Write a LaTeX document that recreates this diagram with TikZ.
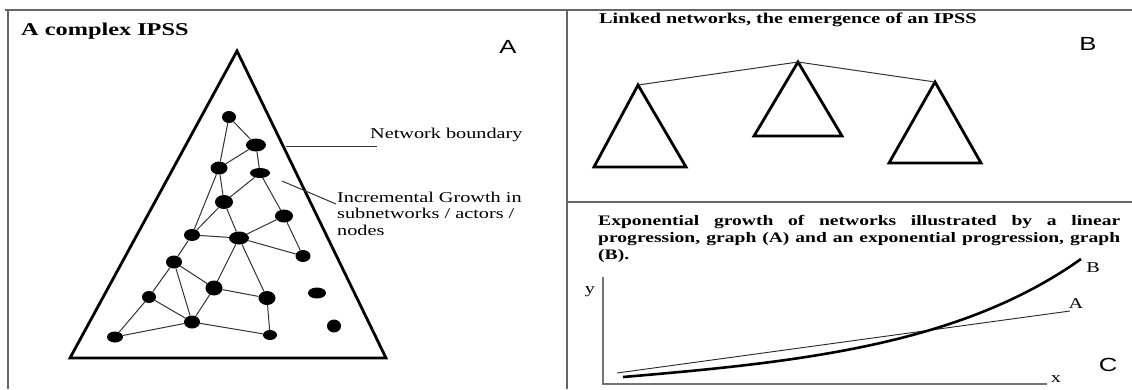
\documentclass[tikz,border=0pt]{standalone}
\usepackage{fontspec}
\setmainfont{Liberation Serif}
\newfontfamily\panelsans{Liberation Sans}
\usepackage{graphicx}
\usetikzlibrary{shapes.geometric}
\newcommand{\hstretch}[1]{\scalebox{1.35}[1]{#1}}
\begin{document}
\begin{tikzpicture}[x=1pt,y=-1pt,
  frame/.style={draw=black!60, line width=1.5pt},
  tri/.style={draw=black, line width=2.8pt, line join=miter},
  link/.style={draw=black!80, line width=1pt},
  dot/.style={ellipse, fill=black, inner sep=0pt, minimum width=16pt, minimum height=12pt},
  leader/.style={draw=black!80, line width=1pt},
  axis/.style={draw=black!55, line width=1.6pt},
  txt/.style={inner sep=0pt, font=\fontsize{15}{17}\selectfont},
  ttl/.style={inner sep=0pt},
  letter/.style={inner sep=0pt, font=\panelsans\fontsize{19}{19}\selectfont}]
\useasboundingbox (0,0) rectangle (1132,389);
\fill[white] (0,0) rectangle (1132,389);

% frame
\draw[frame] (5,10) -- (1132,10);
\draw[frame] (8,10) -- (8,389);
\draw[frame] (567,10) -- (567,389);
\draw[frame] (567,202) -- (1132,202);

% ---------- Panel A ----------
\node[ttl, anchor=base west] (titleA) at (21,35) {\hstretch{\fontsize{18}{20}\selectfont\bfseries A complex IPSS}};
\node[letter, anchor=base] (lblA) at (508,53) {\hstretch{A}};
\draw[tri] (237,51) -- (70,358) -- (386,358) -- cycle;

\node[dot, minimum width=14pt, minimum height=12pt] (n1) at (229,117) {};
\node[dot, minimum width=20pt, minimum height=13pt] (n2) at (256,145) {};
\node[dot, minimum width=17pt, minimum height=13pt] (n3) at (219,168) {};
\node[dot, minimum width=20pt, minimum height=10pt] (n4) at (260,173) {};
\node[dot, minimum width=18pt, minimum height=14pt] (n5) at (224,202) {};
\node[dot, minimum width=18pt, minimum height=13pt] (n6) at (284,216) {};
\node[dot, minimum width=16pt, minimum height=12pt] (n7) at (192,235) {};
\node[dot, minimum width=20pt, minimum height=13pt] (n8) at (239,238) {};
\node[dot, minimum width=15pt, minimum height=12pt] (n9) at (303,256) {};
\node[dot, minimum width=16pt, minimum height=13pt] (n10) at (174,262) {};
\node[dot, minimum width=17pt, minimum height=15pt] (n11) at (214,288) {};
\node[dot, minimum width=17pt, minimum height=14pt] (n12) at (267,298) {};
\node[dot, minimum width=18pt, minimum height=11pt] (n13) at (317,293) {};
\node[dot, minimum width=14pt, minimum height=12pt] (n14) at (149,297) {};
\node[dot, minimum width=16pt, minimum height=13pt] (n15) at (192,322) {};
\node[dot, minimum width=14pt, minimum height=13pt] (n16) at (334,326) {};
\node[dot, minimum width=16pt, minimum height=11pt] (n17) at (115,337) {};
\node[dot, minimum width=14pt, minimum height=10pt] (n18) at (270,335) {};

\foreach \a/\b in {n1/n2, n1/n3, n2/n3, n2/n4, n3/n5, n3/n7, n4/n5, n4/n6, n6/n9,
  n5/n7, n5/n8, n6/n8, n7/n8, n7/n10, n8/n9, n8/n11, n8/n12, n10/n11, n10/n14,
  n10/n15, n11/n12, n11/n15, n12/n18, n14/n15, n14/n17, n15/n17, n15/n18}
  \draw[link] (\a) -- (\b);

\node[txt, anchor=base west] (nbText) at (370,138) {\hstretch{Network boundary}};
\coordinate (nbA) at (286,146);
\coordinate (nbB) at (377,146);
\draw[leader] (nbA) -- (nbB);

\node[ttl, anchor=base west] (igText) at (337,202)
  {\hstretch{\parbox[t]{200pt}{\raggedright\fontsize{15}{16.5}\selectfont
   Incremental Growth in\\ subnetworks / actors /\\ nodes}}};
\coordinate (igA) at (282,181);
\coordinate (igB) at (336,204);
\draw[leader] (igA) -- (igB);

% ---------- Panel B ----------
\node[ttl, anchor=base west] (titleB) at (599,23) {\hstretch{\fontsize{15}{17}\selectfont\bfseries Linked networks, the emergence of an IPSS}};
\node[letter, anchor=base] (lblB) at (1088,50) {\hstretch{B}};
\coordinate (t1) at (638,85);
\coordinate (t2) at (798,62);
\coordinate (t3) at (935,82);
\draw[tri] (t1) -- (594,167) -- (686,167) -- cycle;
\draw[tri] (t2) -- (754,136) -- (842,136) -- cycle;
\draw[tri] (t3) -- (889,163) -- (981,163) -- cycle;
\draw[link] (t1) -- (t2) -- (t3);

% ---------- Panel C ----------
\node[ttl, anchor=base west] (titleC) at (598,225)
  {\hstretch{\parbox[t]{386.7pt}{\fontsize{14.5}{17}\selectfont\bfseries
   Exponential growth of networks illustrated by a linear\linebreak
   progression, graph (A) and an exponential progression, graph\linebreak
   (B).}}};
\node[letter, anchor=base] (lblC) at (1108,371) {\hstretch{C}};
\coordinate (ytop) at (603,277);
\coordinate (org) at (603,384);
\coordinate (xend) at (1047,384);
\draw[axis] (ytop) -- (org) -- (xend);
\node[txt, anchor=base] (ylbl) at (590,293) {\hstretch{y}};
\node[txt, anchor=base] (xlbl) at (1056,382) {\hstretch{x}};
\coordinate (a0) at (617,373);
\coordinate (a1) at (1070,311);
\draw[line width=0.9pt, black!85] (a0) -- (a1);
\coordinate (b0) at (623,377);
\coordinate (b1) at (1081,259);
\draw[line width=2.6pt, black] (b0) .. controls (800,362) and (960,345) .. (b1);
\node[txt, anchor=base] (alblC) at (1076,308) {\hstretch{A}};
\node[txt, anchor=base] (blblC) at (1093,272) {\hstretch{B}};
\end{tikzpicture}
\end{document}
